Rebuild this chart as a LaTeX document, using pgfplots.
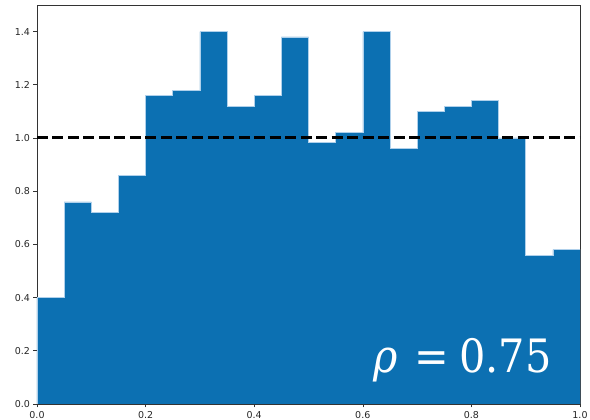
\documentclass[border=0pt]{standalone}
\usepackage{fontspec}
\usepackage{graphicx}
\setmainfont{DejaVu Sans}
\newfontfamily\serifrho{DejaVu Serif}
\usepackage{pgfplots}
\pgfplotsset{compat=1.18}
\definecolor{barblue}{RGB}{12,112,178}
\definecolor{edgeblue}{RGB}{175,208,235}
\begin{document}
\begin{tikzpicture}
\begin{axis}[
  scale only axis,
  width=543pt, height=399pt,
  xmin=0, xmax=1, ymin=0, ymax=1.5,
  xtick={0,0.2,0.4,0.6,0.8,1.0},
  ytick={0,0.2,0.4,0.6,0.8,1.0,1.2,1.4},
  xticklabel style={/pgf/number format/.cd,fixed,fixed zerofill,precision=1},
  yticklabel style={/pgf/number format/.cd,fixed,fixed zerofill,precision=1},
  /pgf/number format/assume math mode=true,
  tick label style={font=\fontsize{9.5}{11}\selectfont, text=black!85},
  tick align=outside, tick pos=left,
  major tick length=3.5pt,
  axis line style={black!80, line width=0.6pt},
  every tick/.style={black!80, line width=0.6pt},
  clip=true,
]
\addplot[const plot, fill=barblue, draw=edgeblue, line width=0.6pt] coordinates {
(0,0) (0.00,0.40) (0.05,0.76) (0.10,0.72) (0.15,0.86) (0.20,1.16)
(0.25,1.18) (0.30,1.40) (0.35,1.12) (0.40,1.16) (0.45,1.38)
(0.50,0.984) (0.55,1.02) (0.60,1.40) (0.65,0.96) (0.70,1.10)
(0.75,1.12) (0.80,1.14) (0.85,1.00) (0.90,0.56) (0.95,0.58)
(1.00,0.58) (1.00,0)
} -- cycle;
\addplot[black, line width=3pt, dash pattern=on 11pt off 4.5pt] coordinates {(0,1) (1,1)};
\node[anchor=base east, text=white, inner sep=0pt, font=\serifrho\fontsize{46}{50}\selectfont] at (axis cs:0.948,0.12) {\scalebox{0.9}[1]{\textit{ρ}\hspace{0.4em}=\hspace{0.25em}0.75}};
\end{axis}
\pgfresetboundingbox
\path ([xshift=-37pt,yshift=-16pt]current axis.south west) rectangle ([xshift=10pt,yshift=5pt]current axis.north east);
\end{tikzpicture}
\end{document}
